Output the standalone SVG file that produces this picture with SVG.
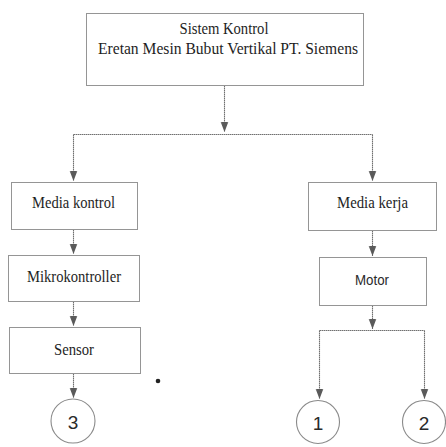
<svg xmlns="http://www.w3.org/2000/svg" width="446" height="447" viewBox="0 0 446 447">
  <style>
    .box { fill: #ffffff; stroke: #959595; stroke-width: 1; }
    .ring { fill: #ffffff; stroke: #8a8a8a; stroke-width: 1.1; }
    .lbl { font-family: "Liberation Serif", "Times New Roman", serif; font-size: 16px; fill: #1e1e1e; text-anchor: middle; }
    .sans { font-family: "Liberation Sans", Arial, sans-serif; fill: #2a2a2a; text-anchor: middle; }
    .wire { fill: none; stroke: #707070; stroke-width: 1.1; stroke-dasharray: 1.5 0.5; }
    .tip { fill: #5a5a5a; }
  </style>
  <defs>
    <marker id="arrow" markerUnits="userSpaceOnUse" markerWidth="11" markerHeight="10" viewBox="0 0 11 10" refX="10.5" refY="5" orient="auto">
      <path class="tip" d="M0,1 L10.5,5 L0,9 L3,5 Z"/>
      <path class="tip" d="M0,1.5 L5,5 L0,8.5 Z"/>
    </marker>
  </defs>

  <rect width="446" height="447" fill="#ffffff"/>

  <g id="connectors">
    <path class="wire" d="M224.5,85.5 V132" marker-end="url(#arrow)"/>
    <path class="wire" d="M73.5,134.5 H372.5"/>
    <path class="wire" d="M73.5,134.5 V181" marker-end="url(#arrow)"/>
    <path class="wire" d="M372.5,134.5 V181" marker-end="url(#arrow)"/>
    <path class="wire" d="M73.5,229.5 V254" marker-end="url(#arrow)"/>
    <path class="wire" d="M73.5,301.5 V326" marker-end="url(#arrow)"/>
    <path class="wire" d="M73.5,373.5 V398" marker-end="url(#arrow)"/>
    <path class="wire" d="M372.5,230.5 V256" marker-end="url(#arrow)"/>
    <path class="wire" d="M372.5,305.5 V329" marker-end="url(#arrow)"/>
    <path class="wire" d="M319.5,330.5 H424.5"/>
    <path class="wire" d="M319.5,330.5 V399" marker-end="url(#arrow)"/>
    <path class="wire" d="M424.5,330.5 V399" marker-end="url(#arrow)"/>
  </g>

  <g id="sistem-kontrol">
    <rect class="box" x="86.5" y="13.5" width="277" height="72"/>
    <text class="lbl" x="224" y="34" textLength="89" lengthAdjust="spacingAndGlyphs">Sistem Kontrol</text>
    <text class="lbl" x="228" y="54" textLength="260" lengthAdjust="spacingAndGlyphs">Eretan Mesin Bubut Vertikal PT. Siemens</text>
  </g>

  <g id="media-kontrol">
    <rect class="box" x="11.5" y="182.5" width="126" height="47"/>
    <text class="lbl" x="73.5" y="208" textLength="83" lengthAdjust="spacingAndGlyphs">Media kontrol</text>
  </g>

  <g id="mikrokontroller">
    <rect class="box" x="8.5" y="255.5" width="131" height="46"/>
    <text class="lbl" x="74" y="282" textLength="94" lengthAdjust="spacingAndGlyphs">Mikrokontroller</text>
  </g>

  <g id="sensor">
    <rect class="box" x="9.5" y="327.5" width="131" height="46"/>
    <text class="lbl" x="74" y="355" textLength="40" lengthAdjust="spacingAndGlyphs">Sensor</text>
  </g>

  <g id="media-kerja">
    <rect class="box" x="308.5" y="182.5" width="128" height="48"/>
    <text class="lbl" x="372.5" y="208" textLength="71" lengthAdjust="spacingAndGlyphs">Media kerja</text>
  </g>

  <g id="motor">
    <rect class="box" x="319.5" y="257.5" width="107" height="48"/>
    <text class="sans" x="372" y="285" font-size="14" textLength="34" lengthAdjust="spacingAndGlyphs">Motor</text>
  </g>

  <g id="ref-3">
    <circle class="ring" cx="73" cy="421" r="22"/>
    <text class="sans" x="73" y="429" font-size="19">3</text>
  </g>

  <g id="ref-1">
    <circle class="ring" cx="318" cy="422" r="21.5"/>
    <text class="sans" x="318" y="430" font-size="19">1</text>
  </g>

  <g id="ref-2">
    <circle class="ring" cx="424" cy="422" r="21.5"/>
    <text class="sans" x="424" y="430" font-size="19">2</text>
  </g>

  <circle id="dot" cx="158" cy="381" r="2.3" fill="#222222"/>
</svg>
